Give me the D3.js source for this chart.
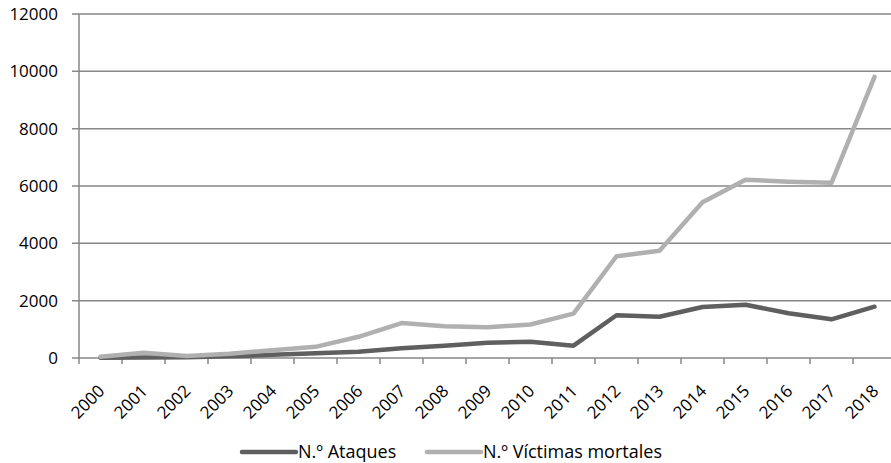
<!DOCTYPE html>
<html lang="es">
<head>
<meta charset="UTF-8">
<script src="https://d3js.org/d3.v7.min.js"></script>
<style>
  body { margin: 0; padding: 0; background: #fff; font-family: "Open Sans", Arial, sans-serif; }
</style>
</head>
<body>
<svg id="chart"></svg>
<script>
const years = ["2000","2001","2002","2003","2004","2005","2006","2007","2008","2009",
               "2010","2011","2012","2013","2014","2015","2016","2017","2018"];
const ataques = [10, 20, 30, 60, 110, 170, 220, 340, 430, 530, 570, 430, 1490, 1440, 1780, 1860, 1560, 1350, 1790];
const victimas = [45, 185, 70, 150, 270, 390, 740, 1220, 1110, 1070, 1170, 1550, 3550, 3740, 5430, 6220, 6150, 6110, 9810];
const yTicks = [0, 2000, 4000, 6000, 8000, 10000, 12000];
const seriesNames = ["N.º Ataques", "N.º Víctimas mortales"];
const seriesColors = ["#5f5f5f", "#b0b0b0"];

const width = 891, height = 463;
const margin = { top: 14, right: -5, bottom: 105, left: 79 };

const svg = d3.select("#chart").attr("width", width).attr("height", height);

const x = d3.scaleBand()
    .domain(years)
    .range([margin.left, width - margin.right]);

const y = d3.scaleLinear()
    .domain([0, 12000])
    .range([height - margin.bottom, margin.top]);

// gridlines
svg.append("g")
    .selectAll("line")
    .data(yTicks)
    .join("line")
    .attr("x1", margin.left - 7)
    .attr("x2", width)
    .attr("y1", d => y(d))
    .attr("y2", d => y(d))
    .attr("stroke", "#878787")
    .attr("stroke-width", 1.5);

// y labels
svg.append("g")
    .selectAll("text")
    .data(yTicks)
    .join("text")
    .attr("x", 58)
    .attr("y", d => y(d))
    .attr("dy", "0.35em")
    .attr("text-anchor", "end")
    .style("font-size", "17px")
    .attr("fill", "#000")
    .text(d => d);

// y axis line
svg.append("line")
    .attr("x1", margin.left).attr("x2", margin.left)
    .attr("y1", y(12000)).attr("y2", y(0))
    .attr("stroke", "#878787").attr("stroke-width", 1.5);

// x ticks at band boundaries
const bounds = years.map(d => x(d)).concat([x(years[years.length - 1]) + x.bandwidth()]);
svg.append("g")
    .selectAll("line")
    .data(bounds)
    .join("line")
    .attr("x1", d => d).attr("x2", d => d)
    .attr("y1", y(0)).attr("y2", y(0) + 6)
    .attr("stroke", "#878787").attr("stroke-width", 1.5);

// x labels
svg.append("g")
    .selectAll("text")
    .data(years)
    .join("text")
    .attr("transform", d => `translate(${x(d) + x.bandwidth() / 2 + 1},${y(0) + 30}) rotate(-45)`)
    .attr("text-anchor", "end")
    .attr("dy", "0.35em")
    .style("font-size", "17px")
    .attr("fill", "#000")
    .text(d => d);

// lines
const line = d3.line()
    .x((d, i) => x(years[i]) + x.bandwidth() / 2)
    .y(d => y(d));

[ataques, victimas].forEach((s, i) => {
    svg.append("path")
        .datum(s)
        .attr("fill", "none")
        .attr("stroke", seriesColors[i])
        .attr("stroke-width", 4.5)
        .attr("stroke-linejoin", "round")
        .attr("stroke-linecap", "round")
        .attr("d", line);
});

// legend
const legendY = 452;
const legendX = [242, 427];
seriesNames.forEach((n, i) => {
    svg.append("line")
        .attr("x1", legendX[i]).attr("x2", legendX[i] + 54)
        .attr("y1", legendY).attr("y2", legendY)
        .attr("stroke", seriesColors[i])
        .attr("stroke-width", 4.5)
        .attr("stroke-linecap", "round");
    svg.append("text")
        .attr("x", legendX[i] + 56)
        .attr("y", legendY)
        .attr("dy", "0.35em")
        .style("font-size", "18px")
        .attr("fill", "#000")
        .text(n);
});
</script>
</body>
</html>
